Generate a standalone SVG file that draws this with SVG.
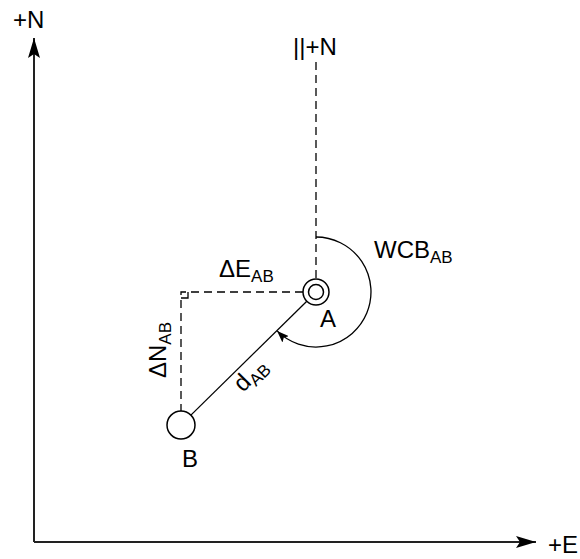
<svg xmlns="http://www.w3.org/2000/svg" width="580" height="559" viewBox="0 0 580 559">
<defs>
<style>
.t{font-family:"Liberation Sans",Arial,sans-serif;font-size:24px;fill:#000}
.s{font-size:17px}
.ln{stroke:#000;stroke-width:1.3;fill:none}
.ds{stroke:#000;stroke-width:1.3;fill:none;stroke-dasharray:8 5}
.ax{stroke:#222;stroke-width:2;fill:none}
.nd{stroke:#000;stroke-width:1.5;fill:#fff}
</style>
<marker id="big" markerWidth="20" markerHeight="14" refX="20" refY="7" orient="auto" markerUnits="userSpaceOnUse">
<path d="M0,1 L20,7 L0,13 L4,7 Z" fill="#000"/>
</marker>
<marker id="sm" markerWidth="12" markerHeight="9" refX="12" refY="4.5" orient="auto" markerUnits="userSpaceOnUse">
<path d="M0,0 L12,4.5 L0,9 L2.5,4.5 Z" fill="#000"/>
</marker>
</defs>
<rect width="580" height="559" fill="#fff"/>
<g id="connectors">
<path class="ax" d="M34,542 V38" marker-end="url(#big)"/>
<path class="ax" d="M34,542 H536" marker-end="url(#big)"/>
<path class="ds" d="M316,62 V279"/>
<path class="ds" d="M303,292 H181 V411"/>
<path class="ln" d="M181,298 H188 V292"/>
<path class="ln" d="M306.8,301.2 L190.9,415.1"/>
<path class="ln" d="M316,237 A55,55 0 1 1 277.1,330.9" marker-end="url(#sm)"/>
</g>
<g id="node-A">
<circle class="nd" cx="316" cy="292" r="13"/>
<circle class="nd" cx="316" cy="292" r="7.5"/>
<text class="t" x="320" y="327">A</text>
</g>
<g id="node-B">
<circle class="nd" cx="181" cy="425" r="14"/>
<text class="t" x="182" y="467">B</text>
</g>
<g id="labels">
<text class="t" x="13" y="28">+N</text>
<text class="t" x="293" y="55">||+N</text>
<text class="t" x="548" y="553">+E</text>
<text class="t" x="219" y="277">ΔE<tspan class="s" dy="5">AB</tspan></text>
<text class="t" x="374" y="258">WCB<tspan class="s" dy="5">AB</tspan></text>
<text class="t" transform="translate(166,378) rotate(-90)">ΔN<tspan class="s" dy="5">AB</tspan></text>
<text class="t" transform="translate(243,393) rotate(-45)">d<tspan class="s" dy="5">AB</tspan></text>
</g>
</svg>
